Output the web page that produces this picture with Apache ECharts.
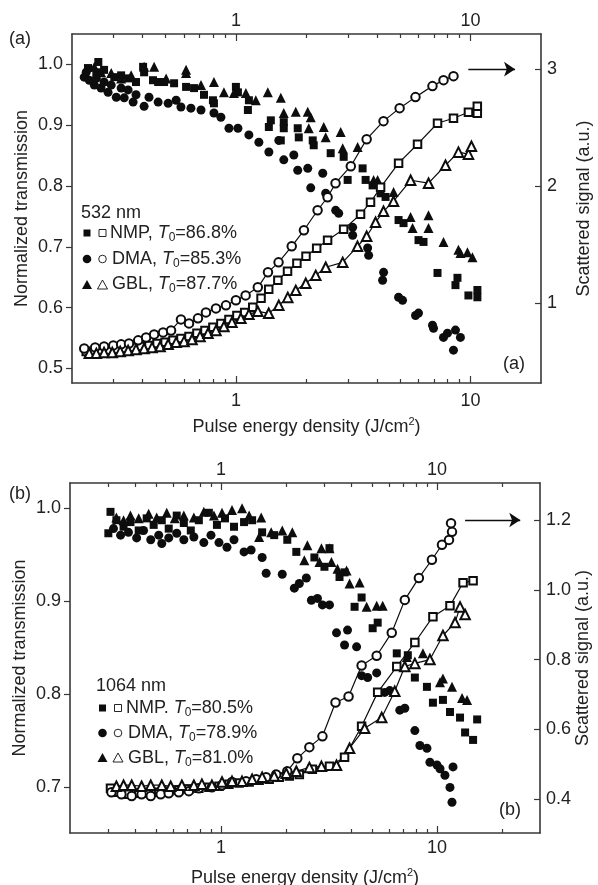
<!DOCTYPE html>
<html><head><meta charset="utf-8">
<script src="https://cdn.jsdelivr.net/npm/echarts@6/dist/echarts.min.js"></script>
<style>html,body{margin:0;padding:0;background:#fff}#c{width:598px;height:885px}</style>
</head><body><div id="c"></div>
<script>
// ---------- Panel (a): 532 nm ----------
const topXMajor = [1, 10];
const topXMinor = [0.3,0.4,0.5,0.6,0.7,0.8,0.9,2,3,4,5,6,7,8,9];
const topLeftTicks = [0.5,0.6,0.7,0.8,0.9,1.0];
const topRightTicks = [1,2,3];

const topNMP_T = [[0.234,0.994],[0.254,0.987],[0.259,1.004],[0.274,0.991],[0.303,0.979],[0.324,0.982],[0.347,0.977],[0.375,0.971],[0.402,0.996],[0.406,0.987],[0.443,0.974],[0.466,0.971],[0.494,0.971],[0.545,0.969],[0.613,0.963],[0.663,0.961],[0.731,0.950],[0.798,0.941],[0.806,0.936],[1.00,0.963],[1.02,0.954],[1.125,0.925],[1.136,0.941],[1.382,0.897],[1.409,0.908],[1.60,0.905],[1.60,0.895],[1.554,0.875],[1.835,0.895],[1.854,0.880],[2.126,0.875],[2.147,0.867],[2.536,0.854],[2.881,0.848],[2.996,0.810],[3.47,0.829],[3.574,0.810],[3.828,0.801],[4.14,0.788],[4.347,0.782],[4.939,0.744],[5.186,0.739],[6.008,0.711],[6.31,0.708],[7.239,0.657],[8.636,0.637],[8.806,0.649],[9.806,0.620],[10.71,0.629],[10.71,0.617]];
const topDMA_T = [[0.2255,0.979],[0.230,0.987],[0.237,0.974],[0.249,0.966],[0.254,0.977],[0.266,0.961],[0.274,0.971],[0.285,0.954],[0.294,0.966],[0.309,0.946],[0.324,0.961],[0.334,0.945],[0.347,0.958],[0.3645,0.938],[0.375,0.950],[0.406,0.931],[0.426,0.946],[0.466,0.938],[0.514,0.936],[0.556,0.941],[0.583,0.930],[0.643,0.928],[0.710,0.925],[0.806,0.920],[0.863,0.913],[0.934,0.895],[1.02,0.895],[1.136,0.884],[1.253,0.872],[1.382,0.856],[1.524,0.875],[1.60,0.843],[1.766,0.851],[1.835,0.826],[2.025,0.829],[2.085,0.797],[2.346,0.821],[2.415,0.788],[2.664,0.760],[2.744,0.755],[3.147,0.732],[3.147,0.719],[3.645,0.698],[3.681,0.686],[4.264,0.658],[4.222,0.645],[4.939,0.617],[5.136,0.612],[5.834,0.587],[6.008,0.591],[6.892,0.571],[6.96,0.566],[7.677,0.551],[7.983,0.558],[8.636,0.563],[9.067,0.551],[8.468,0.530]];
const topGBL_T = [[0.249,0.996],[0.266,0.987],[0.294,0.986],[0.324,0.977],[0.3575,0.982],[0.406,0.996],[0.448,0.996],[0.504,0.977],[0.613,0.991],[0.613,0.986],[0.710,0.966],[0.806,0.971],[0.889,0.954],[0.981,0.953],[1.103,0.953],[1.216,0.941],[1.368,0.954],[1.554,0.945],[1.60,0.920],[1.80,0.922],[2.025,0.922],[2.085,0.913],[2.045,0.895],[2.369,0.897],[2.415,0.880],[2.798,0.889],[2.854,0.862],[3.304,0.864],[3.865,0.810],[4.02,0.810],[4.702,0.790],[5.556,0.749],[5.666,0.731],[6.627,0.752],[6.627,0.731],[7.677,0.708],[8.889,0.695],[9.067,0.690],[9.71,0.691],[10.2,0.683]];
const topNMP_S = [[0.230,0.590],[0.246,0.590],[0.266,0.590],[0.288,0.598],[0.312,0.607],[0.337,0.615],[0.365,0.624],[0.394,0.632],[0.426,0.641],[0.461,0.658],[0.499,0.667],[0.539,0.684],[0.583,0.701],[0.631,0.718],[0.682,0.744],[0.738,0.769],[0.798,0.795],[0.863,0.829],[0.934,0.863],[1.01,0.897],[1.09,0.923],[1.18,0.966],[1.28,1.043],[1.38,1.120],[1.51,1.197],[1.66,1.274],[1.82,1.342],[1.99,1.402],[2.21,1.470],[2.46,1.538],[2.88,1.632],[3.40,1.761],[3.75,1.863],[4.14,1.991],[4.94,2.197],[5.95,2.359],[7.24,2.538],[8.47,2.581],[9.81,2.632],[10.7,2.624],[10.7,2.684]];
const topDMA_S = [[0.2255,0.615],[0.251,0.624],[0.274,0.632],[0.300,0.641],[0.324,0.650],[0.350,0.658],[0.383,0.684],[0.414,0.709],[0.448,0.735],[0.489,0.752],[0.529,0.769],[0.583,0.863],[0.631,0.829],[0.689,0.872],[0.745,0.923],[0.822,0.957],[0.907,0.983],[1.0,1.026],[1.10,1.068],[1.24,1.137],[1.37,1.265],[1.52,1.350],[1.73,1.487],[1.95,1.624],[2.23,1.795],[2.46,1.906],[2.66,2.026],[3.09,2.171],[3.61,2.402],[4.26,2.556],[4.99,2.667],[5.83,2.761],[6.89,2.855],[7.68,2.906],[8.47,2.940]];
const topGBL_S = [[0.237,0.573],[0.254,0.573],[0.274,0.581],[0.297,0.581],[0.321,0.590],[0.347,0.598],[0.375,0.607],[0.406,0.615],[0.439,0.624],[0.475,0.632],[0.514,0.650],[0.556,0.667],[0.601,0.675],[0.650,0.692],[0.703,0.718],[0.760,0.744],[0.822,0.769],[0.889,0.803],[0.962,0.838],[1.05,0.872],[1.136,0.906],[1.24,0.932],[1.38,0.915],[1.524,0.983],[1.664,1.051],[1.80,1.111],[1.986,1.171],[2.19,1.239],[2.415,1.308],[2.854,1.350],[3.30,1.487],[3.61,1.573],[3.94,1.692],[4.26,1.786],[4.70,1.872],[5.56,2.051],[6.63,2.026],[7.83,2.179],[8.89,2.291],[9.81,2.274],[10.1,2.342]];
const topArrow = [[9.8,3],[15.5,3]];

// ---------- Panel (b): 1064 nm ----------
const botXMajor = [1, 10];
const botXMinor = [0.3,0.4,0.5,0.6,0.7,0.8,0.9,2,3,4,5,6,7,8,9,20];
const botLeftTicks = [0.7,0.8,0.9,1.0];
const botRightTicks = [0.4,0.6,0.8,1.0,1.2];

const botNMP_T = [[0.308,0.996],[0.301,0.973],[0.328,0.987],[0.354,0.980],[0.381,0.985],[0.416,0.976],[0.453,0.989],[0.488,0.982],[0.532,0.987],[0.573,0.978],[0.624,0.992],[0.673,0.984],[0.725,0.976],[0.790,0.987],[0.879,0.995],[0.958,0.982],[1.044,0.989],[1.149,0.980],[1.279,0.985],[1.394,0.987],[1.551,0.974],[1.764,0.971],[2.028,0.966],[2.233,0.953],[2.708,0.947],[3.014,0.937],[3.18,0.957],[3.539,0.926],[3.734,0.931],[4.479,0.904],[4.156,0.894],[5.039,0.871],[5.316,0.877],[6.516,0.844],[7.33,0.842],[7.902,0.818],[8.987,0.808],[9.58,0.791],[10.66,0.794],[11.49,0.781],[12.79,0.775],[13.5,0.759],[14.7,0.751],[15.35,0.773]];
const botDMA_T = [[0.318,0.978],[0.343,0.971],[0.373,0.974],[0.407,0.968],[0.438,0.976],[0.473,0.966],[0.515,0.971],[0.532,0.962],[0.573,0.968],[0.624,0.973],[0.673,0.966],[0.749,0.969],[0.833,0.963],[0.899,0.971],[0.979,0.963],[1.066,0.958],[1.149,0.966],[1.279,0.953],[1.379,0.955],[1.551,0.947],[1.619,0.930],[1.922,0.929],[2.186,0.914],[2.306,0.919],[2.485,0.925],[2.622,0.901],[2.797,0.903],[2.95,0.896],[3.18,0.896],[3.427,0.866],[3.855,0.869],[3.734,0.853],[4.246,0.851],[4.479,0.820],[4.776,0.818],[5.259,0.823],[5.73,0.802],[6.045,0.804],[6.729,0.783],[7.099,0.785],[7.902,0.761],[8.337,0.745],[8.987,0.742],[9.278,0.727],[10.0,0.724],[10.33,0.720],[10.89,0.713],[11.87,0.722],[11.49,0.700],[11.74,0.684]];
const botGBL_T = [[0.328,0.990],[0.354,0.987],[0.381,0.992],[0.416,0.989],[0.4625,0.994],[0.504,0.990],[0.561,0.995],[0.611,0.989],[0.673,0.992],[0.749,0.990],[0.833,0.996],[0.928,0.992],[1.011,0.995],[1.125,0.998],[1.252,1.000],[1.35,0.992],[1.535,0.990],[1.502,0.969],[1.708,0.974],[1.922,0.976],[2.139,0.974],[2.512,0.960],[2.919,0.957],[3.18,0.957],[2.432,0.944],[2.857,0.942],[3.248,0.942],[3.464,0.935],[3.815,0.933],[3.939,0.919],[4.384,0.920],[4.725,0.894],[5.259,0.895],[5.609,0.895],[7.252,0.840],[8.61,0.844],[10.66,0.817],[10.33,0.813],[11.74,0.808],[13.07,0.796],[13.79,0.794]];
const botNMP_S = [[0.308,0.431],[0.335,0.420],[0.373,0.414],[0.416,0.417],[0.4625,0.417],[0.515,0.420],[0.573,0.423],[0.638,0.426],[0.710,0.429],[0.790,0.431],[0.879,0.434],[0.979,0.437],[1.089,0.443],[1.213,0.446],[1.35,0.449],[1.502,0.454],[1.672,0.457],[1.861,0.463],[2.072,0.466],[2.306,0.471],[2.65,0.486],[3.18,0.494],[3.734,0.520],[4.479,0.609],[5.316,0.706],[6.516,0.780],[7.902,0.849],[9.58,0.923],[11.49,0.954],[13.21,1.020],[14.7,1.026]];
const botDMA_S = [[0.311,0.420],[0.346,0.414],[0.386,0.409],[0.429,0.414],[0.473,0.409],[0.526,0.414],[0.573,0.417],[0.638,0.420],[0.710,0.423],[0.790,0.431],[0.908,0.434],[1.011,0.440],[1.125,0.449],[1.307,0.451],[1.455,0.457],[1.619,0.463],[1.802,0.471],[2.028,0.480],[2.257,0.517],[2.566,0.549],[2.95,0.580],[3.391,0.677],[3.897,0.694],[4.479,0.783],[5.259,0.811],[6.176,0.877],[7.099,0.971],[8.248,1.034],[9.478,1.086],[10.55,1.129],[11.37,1.143],[11.74,1.166],[11.62,1.191]];
const botGBL_S = [[0.328,0.437],[0.354,0.440],[0.386,0.440],[0.429,0.437],[0.473,0.440],[0.532,0.440],[0.585,0.437],[0.659,0.440],[0.749,0.440],[0.816,0.443],[0.908,0.440],[1.011,0.449],[1.125,0.451],[1.252,0.451],[1.394,0.457],[1.551,0.463],[1.764,0.466],[2.006,0.474],[2.233,0.480],[2.566,0.491],[2.919,0.494],[3.427,0.497],[3.939,0.546],[4.625,0.603],[5.549,0.634],[6.377,0.709],[7.099,0.780],[7.902,0.789],[9.278,0.800],[10.66,0.869],[12.13,0.906],[12.79,0.951],[13.5,0.929]];
const botArrow = [[13.5,1.2],[24.3,1.2]];

// ---------- texts ----------
const xTitle = 'Pulse energy density (J/cm{sup|2})';
const yLeftTitle = 'Normalized transmission';
const yRightTitle = 'Scattered signal (a.u.)';
const legendA = {head:'532 nm', rows:['{n|NMP, }{i|T}{s|0}{n|=86.8%}','{n|DMA, }{i|T}{s|0}{n|=85.3%}','{n|GBL, }{i|T}{s|0}{n|=87.7%}']};
const legendB = {head:'1064 nm', rows:['{n|NMP. }{i|T}{s|0}{n|=80.5%}','{n|DMA, }{i|T}{s|0}{n|=78.9%}','{n|GBL, }{i|T}{s|0}{n|=81.0%}']};

// ---------- styling / layout ----------
const FONT = '"Liberation Sans", Arial, Helvetica, sans-serif';
const INK = '#222';
const FRAME = '#383838';
const MARK = '#0d0d0d';

function xAx(grid, pos, min, max, vals, len, main, margin, name, gap) {
  return {
    type: 'log', logBase: 10, gridIndex: grid, position: pos, min: min, max: max,
    axisLine: {show: main, onZero: false, lineStyle: {color: FRAME, width: 1.6}},
    axisTick: {show: true, inside: true, length: len, customValues: vals, lineStyle: {color: FRAME, width: 1.2}},
    axisLabel: main ? {show: true, customValues: vals, margin: margin, color: INK, fontSize: 18, fontFamily: FONT, formatter: v => String(v)} : {show: false},
    splitLine: {show: false}, minorTick: {show: false}, minorSplitLine: {show: false},
    name: name || '', nameLocation: 'middle', nameGap: gap || 0, nameMoveOverlap: false,
    nameTextStyle: {color: INK, fontSize: 18, fontFamily: FONT, lineHeight: 22,
      rich: {sup: {fontSize: 11, lineHeight: 11, verticalAlign: 'top', fontFamily: FONT, color: INK}}}
  };
}
function yAx(grid, pos, min, max, vals, inside, margin, digits, name, gap) {
  return {
    type: 'value', gridIndex: grid, position: pos, min: min, max: max,
    axisLine: {show: true, onZero: false, lineStyle: {color: FRAME, width: 1.6}},
    axisTick: {show: true, inside: inside, length: 6, customValues: vals, lineStyle: {color: FRAME, width: 1.2}},
    axisLabel: {show: true, customValues: vals, margin: margin, color: INK, fontSize: 18, fontFamily: FONT,
      formatter: v => Number(v).toFixed(digits)},
    splitLine: {show: false},
    name: name, nameLocation: 'middle', nameGap: gap, nameRotate: 90, nameMoveOverlap: false,
    nameTextStyle: {color: INK, fontSize: 18, fontFamily: FONT}
  };
}

function filled(xi, yi, data, sym, size) {
  return {type: 'scatter', xAxisIndex: xi, yAxisIndex: yi, data: data, symbol: sym, symbolSize: size,
    itemStyle: {color: MARK, opacity: 1}, z: 3, silent: true};
}
function open(xi, yi, data, sym, size, arrow) {
  const s = {type: 'line', xAxisIndex: xi, yAxisIndex: yi, data: data, symbol: sym, symbolSize: size,
    showSymbol: true, lineStyle: {color: MARK, width: 1.2}, itemStyle: {color: MARK, borderWidth: 0.8},
    z: 4, silent: true};
  if (arrow) {
    s.markLine = {silent: true, symbol: ['none', 'arrow'], symbolSize: 11, label: {show: false},
      lineStyle: {color: MARK, width: 1.3, type: 'solid'},
      data: [[{coord: arrow[0]}, {coord: arrow[1]}]]};
  }
  return s;
}

const richLegend = {
  n: {fontSize: 18, fontFamily: FONT, fill: INK, lineHeight: 22},
  i: {fontSize: 18, fontFamily: FONT, fill: INK, fontStyle: 'italic', lineHeight: 22},
  s: {fontSize: 12, fontFamily: FONT, fill: INK, lineHeight: 12, verticalAlign: 'bottom'}
};
function txt(x, y, text, align) {
  return {type: 'text', x: x, y: y, silent: true,
    style: {text: text, fontSize: 18, fontFamily: FONT, fill: INK, align: align || 'left', verticalAlign: 'middle', rich: richLegend}};
}
function legendIcons(xf, xo, ys) {
  const g = [];
  const [y1, y2, y3] = ys;
  g.push({type: 'rect', shape: {x: xf - 3.5, y: y1 - 3.5, width: 7, height: 7}, style: {fill: MARK}, silent: true});
  g.push({type: 'rect', shape: {x: xo - 3.5, y: y1 - 3.5, width: 7, height: 7}, style: {fill: '#fff', stroke: MARK, lineWidth: 0.9}, silent: true});
  g.push({type: 'circle', shape: {cx: xf, cy: y2, r: 4.3}, style: {fill: MARK}, silent: true});
  g.push({type: 'circle', shape: {cx: xo, cy: y2, r: 3.8}, style: {fill: '#fff', stroke: MARK, lineWidth: 0.9}, silent: true});
  g.push({type: 'polygon', shape: {points: [[xf - 5, y3 + 4], [xf + 5, y3 + 4], [xf, y3 - 5]]}, style: {fill: MARK}, silent: true});
  g.push({type: 'polygon', shape: {points: [[xo - 5, y3 + 4], [xo + 5, y3 + 4], [xo, y3 - 5]]}, style: {fill: '#fff', stroke: MARK, lineWidth: 0.9}, silent: true});
  return g;
}

const graphics = [].concat(
  [txt(20, 39, '(a)', 'center'), txt(514, 364, '(a)', 'center'), txt(20, 494, '(b)', 'center'), txt(510, 810, '(b)', 'center')],
  [txt(81, 213, legendA.head)], legendA.rows.map((r, k) => txt(110 + (k ? 2 : 0), [233, 259, 284][k], r)),
  legendIcons(87, 102.5, [233, 259, 285]),
  [txt(96, 686, legendB.head)], legendB.rows.map((r, k) => txt(126 + (k ? 2 : 0), [708, 733, 758][k], r)),
  legendIcons(102.5, 118, [708, 733, 758])
);

const option = {
  animation: false,
  backgroundColor: '#fff',
  grid: [
    {left: 72, top: 34, width: 469, height: 349, containLabel: false, outerBoundsMode: 'none'},
    {left: 70, top: 483, width: 470, height: 350, containLabel: false, outerBoundsMode: 'none'}
  ],
  xAxis: [
    xAx(0, 'bottom', 0.2, 20, topXMajor, 7, true, 9, xTitle, 33),
    xAx(0, 'bottom', 0.2, 20, topXMinor, 4, false),
    xAx(0, 'top', 0.2, 20, topXMajor, 7, true, 4),
    xAx(0, 'top', 0.2, 20, topXMinor, 4, false),
    xAx(1, 'bottom', 0.2, 30, botXMajor, 7, true, 6, xTitle, 34),
    xAx(1, 'bottom', 0.2, 30, botXMinor, 4, false),
    xAx(1, 'top', 0.2, 30, botXMajor, 7, true, 4),
    xAx(1, 'top', 0.2, 30, botXMinor, 4, false)
  ],
  yAxis: [
    yAx(0, 'left', 0.476, 1.05, topLeftTicks, false, 9, 1, yLeftTitle, 41),
    yAx(0, 'right', 0.32, 3.30, topRightTicks, true, 6, 0, yRightTitle, 34),
    yAx(1, 'left', 0.651, 1.027, botLeftTicks, false, 9, 1, yLeftTitle, 41),
    yAx(1, 'right', 0.303, 1.306, botRightTicks, true, 6, 1, yRightTitle, 34)
  ],
  series: [
    filled(0, 0, topNMP_T, 'rect', 8),
    filled(0, 0, topDMA_T, 'circle', 9),
    filled(0, 0, topGBL_T, 'triangle', 10),
    open(0, 1, topNMP_S, 'emptyRect', 7.5),
    open(0, 1, topDMA_S, 'emptyCircle', 8.5, topArrow),
    open(0, 1, topGBL_S, 'emptyTriangle', 9.5),
    filled(4, 2, botNMP_T, 'rect', 8),
    filled(4, 2, botDMA_T, 'circle', 9),
    filled(4, 2, botGBL_T, 'triangle', 10),
    open(4, 3, botNMP_S, 'emptyRect', 7.5),
    open(4, 3, botDMA_S, 'emptyCircle', 8.5, botArrow),
    open(4, 3, botGBL_S, 'emptyTriangle', 9.5)
  ],
  graphic: graphics
};

const chart = echarts.init(document.getElementById('c'), null, {renderer: 'canvas', width: 598, height: 885});
chart.setOption(option);
</script>
</body></html>
